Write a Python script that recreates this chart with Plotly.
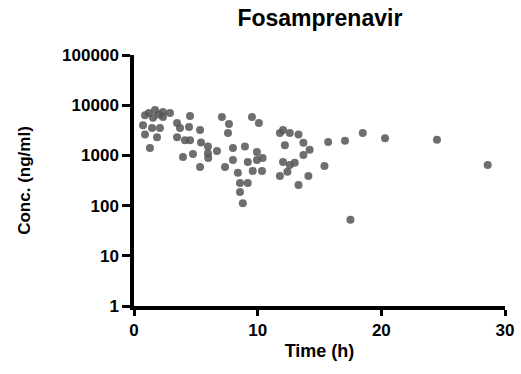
import plotly.graph_objects as go

# Time (h) and concentration (ng/ml)
time_h = [0.89, 1.70, 2.34, 2.91, 1.54, 2.34, 4.53, 0.73, 1.46, 2.10,
          3.48, 3.72, 4.45, 5.34, 7.11, 7.68, 7.60, 9.54, 10.1, 0.89,
          1.86, 3.48, 4.12, 4.53, 1.29, 5.42, 5.98, 5.98, 6.71, 8.00,
          8.97, 9.94, 3.96, 4.77, 6.00, 10.4, 11.8, 12.05, 12.6, 13.3,
          12.2, 13.7, 14.2, 13.7, 15.7, 8.0, 9.2, 9.94, 5.34, 7.36,
          8.4, 9.6, 10.35, 12.05, 12.6, 13.0, 12.4, 11.8, 14.1, 13.3,
          15.4, 8.57, 9.2, 8.57, 8.8, 17.06, 18.5, 20.3, 24.5, 28.6,
          17.5, 1.2, 2.0]
conc = [6300, 8000, 7300, 7000, 5600, 5800, 6100, 4000, 3500, 3500,
        4400, 3500, 3700, 3200, 5800, 4200, 2800, 5800, 4400, 2600,
        2300, 2300, 2000, 2000, 1400, 1800, 1500, 1100, 1230, 1400,
        1500, 1170, 930, 1070, 890, 890, 2800, 3200, 2800, 2600,
        1600, 1780, 1290, 1020, 1850, 810, 740, 810, 590, 590,
        450, 490, 490, 740, 645, 710, 470, 390, 390, 257,
        615, 282, 282, 186, 112, 1950, 2800, 2200, 2040, 645,
        52, 7000, 6500]

x_ticks = [0, 10, 20, 30]
y_ticks = [1, 10, 100, 1000, 10000, 100000]
y_tick_labels = ["1", "10", "100", "1000", "10000", "100000"]

title = "Fosamprenavir"
x_title = "Time (h)"
y_title = "Conc. (ng/ml)"

font_family = "Liberation Sans, Arial, sans-serif"

fig = go.Figure()
fig.add_trace(go.Scatter(
    x=time_h, y=conc, mode="markers",
    marker=dict(size=8, color="rgba(85,85,85,0.85)", line=dict(width=0)),
    showlegend=False, cliponaxis=False,
))

fig.update_layout(
    width=521, height=374,
    paper_bgcolor="white", plot_bgcolor="white",
    margin=dict(l=134, r=16, t=55, b=68),
    title=dict(text="<b>" + title + "</b>", x=0.614, xanchor="center",
               y=0.952, yanchor="middle",
               font=dict(family=font_family, size=23, color="black")),
    font=dict(family=font_family, color="black"),
)

fig.update_xaxes(
    range=[0, 30], tickvals=x_ticks, ticktext=[f"<b>{v}</b>" for v in x_ticks],
    showline=True, linecolor="black", linewidth=3.5,
    ticks="outside", tickwidth=3, ticklen=6, tickcolor="black",
    showgrid=False, zeroline=False, automargin=False,
    tickfont=dict(size=17, family=font_family, color="black"),
    title=dict(text="<b>" + x_title + "</b>", standoff=6,
               font=dict(size=18, family=font_family, color="black")),
)
fig.update_yaxes(
    type="log", range=[0, 5], tickvals=y_ticks,
    ticktext=["<b>" + t + "</b>" for t in y_tick_labels],
    showline=True, linecolor="black", linewidth=3.5,
    ticks="outside", tickwidth=3, ticklen=8, tickcolor="black",
    showgrid=False, zeroline=False, automargin=False,
    tickfont=dict(size=17, family=font_family, color="black"),
    title=dict(text="<b>" + y_title + "</b>", standoff=28,
               font=dict(size=17, family=font_family, color="black")),
)

fig.write_html("out.html")
